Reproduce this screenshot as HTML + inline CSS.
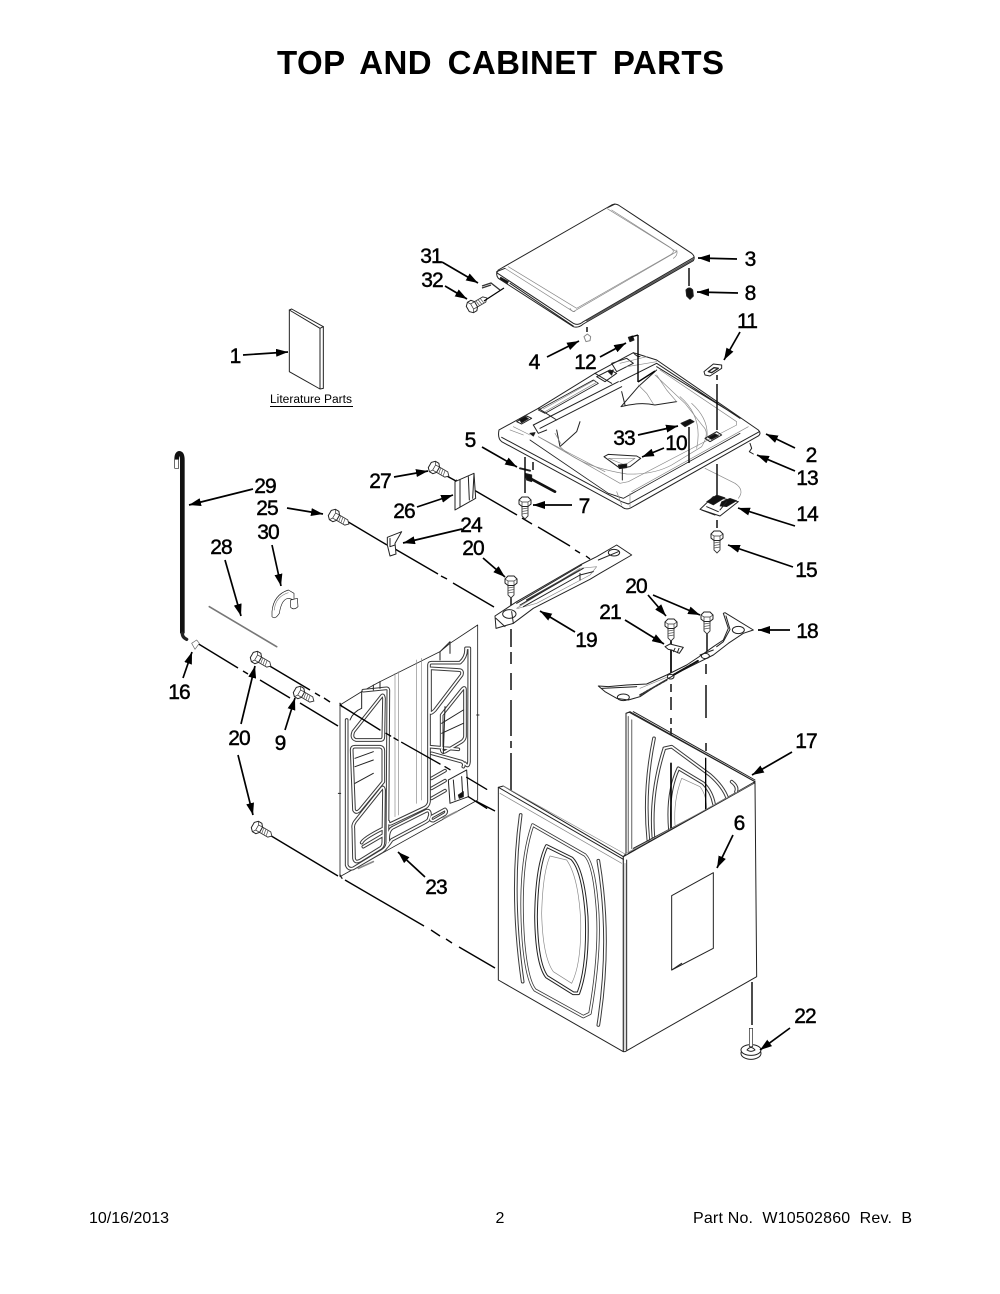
<!DOCTYPE html>
<html><head><meta charset="utf-8"><style>
html,body{margin:0;padding:0;background:#fff}
svg{display:block}
.n{font:21px "Liberation Sans",sans-serif;text-anchor:middle;fill:#000;stroke:#000;stroke-width:.45;letter-spacing:-.9px}
.f{font:16px "Liberation Sans",sans-serif;fill:#000}
.a line{stroke:#000;stroke-width:1.7;marker-end:url(#h)}
.d line{stroke:#000;stroke-width:1.4}
.t *{fill:none;stroke:#222;stroke-width:3;stroke-linejoin:round;stroke-linecap:round}
.g{stroke:#888!important;stroke-width:2!important}
.w{fill:#fff!important}
.e1{stroke:#3a3a3a!important;stroke-width:11!important}
.e2{stroke:#fff!important;stroke-width:5!important}
.k{fill:#111!important}
</style></head><body>
<svg xmlns="http://www.w3.org/2000/svg" width="1000" height="1294" viewBox="0 0 1000 1294">
<defs>
<marker id="h" markerUnits="userSpaceOnUse" markerWidth="13" markerHeight="8" refX="12" refY="4" orient="auto"><path d="M0,0L12,4L0,8Z" fill="#000"/></marker>
<g id="sv"><path d="M-3,3L-3,13L0,16L3,13L3,3Z" fill="#fff" stroke="#333" stroke-width=".9"/><path d="M-3,6L3,5M-3,8.500L3,7.500M-3,11L3,10" stroke="#555" stroke-width=".7"/><path d="M-6,-3L-3,-6L3,-6L6,-3L6,1L3,3.500L-3,3.500L-6,1Z" fill="#fff" stroke="#222" stroke-width="1"/><path d="M-6,-3L-3,-1L3,-1L6,-3M-3,-1L-3,3.500M3,-1L3,3.500" fill="none" stroke="#333" stroke-width=".7"/></g>
<path id="pan" d="M50,735L50,300M100,212L170,205Q176,205 175,215L172,670Q170,685 155,695L70,745Q55,750 50,735M155,228L70,335Q62,355 78,360L152,360Q160,360 160,350L162,235Q160,222 155,228ZM75,380L150,380Q160,382 160,392L160,485L90,570Q78,582 72,570L65,390Q65,380 75,380ZM155,505L75,605Q68,615 70,625L72,715Q75,730 90,722L150,685Q160,680 160,665L162,510Q160,498 155,505ZM95,668Q100,655 160,625M100,680L160,645M297,135Q297,128 305,128L390,128Q410,110 408,85L418,85L417,425Q415,445 405,430M300,145L385,150Q400,150 395,165L315,270Q300,285 300,275ZM335,285L395,210Q405,198 405,210L405,350Q403,360 395,365L345,395Q335,400 335,385ZM297,135L297,545Q295,560 280,565L185,610Q175,615 175,605M300,380L385,388M305,400L395,425Q405,430 400,440M305,475L345,452M305,505L345,482M305,535L345,512M305,590L345,568Q352,575 345,582L310,602Q298,602 305,590M175,665Q172,630 190,622L290,572Q300,570 300,585L295,600Q290,605 270,615L185,660Q172,680 160,690L70,745"/>
</defs>

<text x="500.500" y="74" text-anchor="middle" textLength="447" lengthAdjust="spacing" style="font:bold 33px 'Liberation Sans',sans-serif;word-spacing:6px">TOP AND CABINET PARTS</text>

<!-- lid -->
<g class="t" transform="translate(480 200) scale(.33333)">
<path class="w" d="M395,15Q405,10 415,15L635,160Q647,170 640,182L310,372Q295,385 280,380L55,235Q45,222 55,210Z"/>
<path d="M50,218L280,370Q295,378 310,365L642,172"/>
<path class="g" d="M75,205L280,335L590,155L380,25"/>
<path class="g" d="M85,200L290,325L570,165Q590,155 570,142L395,30M270,325Q275,335 285,335M580,175Q595,165 590,150"/>
<path d="M50,215L75,205M385,22L405,12M90,250L280,378"/>
<path class="k" d="M62,232L85,245L82,250L60,238Z"/>
<path d="M320,362L640,178" style="stroke:#555;stroke-width:4"/>
</g>
<!-- base -->
<g class="t" transform="translate(480 200) scale(.33333)">
<path class="w" d="M57,690L175,625L345,520L460,458L530,480L835,690Q845,700 835,708L450,925Q435,930 425,920L65,725Q52,715 57,690Z"/>
<path d="M65,712L425,905L445,912L838,695"/>
<path d="M150,720L385,880L430,895L780,700" style="stroke-width:2.500"/>
<path class="g" d="M175,710L250,750L375,815M455,875L805,680M410,875L425,915M450,880L450,925"/>
<!-- back-left deck -->
<path d="M175,630L195,640L355,550L340,540Z" style="stroke-width:2.500"/>
<path class="g" d="M190,627L345,540M195,635L350,547"/>
<path d="M160,675L415,545M180,685L425,560"/>
<path d="M160,675L175,700L200,690" />
<path d="M345,520L395,550M175,625L230,660"/>
<!-- inner wall -->
<path d="M420,545L530,490L780,655M530,500L775,650"/>
<path class="g" d="M540,510L770,665L770,675L445,845L420,850L175,710"/>
<!-- bowl -->
<path d="M230,690L240,740L290,695L300,665"/>
<path class="g" d="M240,740Q300,800 440,822Q520,825 575,795L665,740Q690,700 670,680L615,610L525,525"/>
<path class="g" d="M600,590Q670,650 650,745M635,610Q690,660 680,720M225,700L245,735"/>
<path d="M423,620L475,560L530,510M423,620Q480,605 525,615L590,605M425,575L435,615"/>
<path class="g" d="M475,555L500,580L520,612M530,525L560,570L590,605"/>
<!-- rear tabs -->
<path d="M350,530L390,510L410,520L375,545ZM395,490L440,475L460,490L410,515Z"/>
<path class="k" d="M385,515L400,510L395,525Z"/>
<path class="g" d="M420,490L500,470M440,500L530,485"/>
<path d="M460,458Q470,470 480,470"/>
<!-- left corner details -->
<path d="M110,665L140,648L155,655L125,672Z"/>
<path class="k" d="M118,658L135,650L145,656L125,668Z"/>
<path class="g" d="M90,690L130,705M100,680L150,705"/>
<path class="k" d="M150,700L165,698L160,708Z"/>
<!-- right pocket -->
<path d="M675,715L710,695L725,705L690,725Z"/>
<path class="k" d="M685,712L705,702L715,707L695,718Z"/>
<path d="M810,730L815,745L808,755L820,762" />
<path class="g" d="M675,805L765,850Q795,870 775,895"/>
<!-- 10 -->
<path class="w" d="M372,770L385,763L470,768L482,775L450,800L420,805Z"/>
<path class="g" d="M385,775L465,775L435,795Z"/>
<path class="k" d="M415,795L440,792L440,803L418,806Z"/>
<line x1="427" y1="805" x2="427" y2="840"/>
<!-- 11 -->
<path class="w" d="M672,515L700,492L725,495L725,505L690,528L675,525Z"/>
<path d="M685,515L702,503L715,505L695,518Z" style="stroke-width:4"/>
<!-- 33 -->
<path class="k" d="M603,670L630,658L642,665L615,680Z"/>
<!-- 14 -->
<path class="w" d="M660,928L700,890L775,905L720,948Z"/>
<path class="k" d="M680,905L710,885L735,893L700,915Z" style="stroke-width:2"/>
<path class="k" d="M725,905L750,895L770,902L740,920L720,918Z" style="stroke-width:2"/>
<path d="M665,930L705,945M680,920L715,935M740,905L720,930"/>
<!-- 5 -->
<path d="M120,805L150,812"  style="stroke-width:6"/>
<path class="k" d="M135,820L155,825L155,845L140,840Z"/>
<path d="M150,835L225,875" style="stroke:#111;stroke-width:8"/>
<!-- 12, 8, 4 -->
<path class="k" d="M445,412L458,408L462,420L450,425Z"/>
<path class="k" d="M618,270Q628,258 638,270L640,288L630,298L620,288Z"/>
<path class="w" d="M312,410L322,402L332,410L330,422L318,425Z" style="stroke:#888"/>
</g>
<g class="d">
<line x1="689" y1="268" x2="689" y2="286"/><line x1="587" y1="327" x2="587" y2="332"/>
<line x1="638" y1="335" x2="638" y2="382"/><line x1="638" y1="382" x2="655" y2="371"/><line x1="631" y1="337" x2="638" y2="335"/>
<line x1="717" y1="375" x2="717" y2="380"/><line x1="717" y1="384" x2="717" y2="430"/>
<line x1="689" y1="427" x2="689" y2="463"/><line x1="717" y1="464" x2="717" y2="495"/><line x1="717" y1="520" x2="717" y2="528"/>
<line x1="525" y1="457" x2="525" y2="493"/><line x1="533" y1="462" x2="533" y2="470"/>
<line x1="445" y1="475" x2="456" y2="481"/>
<line x1="474" y1="490" x2="517" y2="515"/><line x1="522" y1="518" x2="532" y2="524"/><line x1="538" y1="527" x2="570" y2="546"/><line x1="575" y1="550" x2="580" y2="553"/><line x1="586" y1="556" x2="590" y2="559"/>
<line x1="345" y1="520" x2="387" y2="545"/>
<line x1="395" y1="549" x2="438" y2="574"/><line x1="441" y1="576" x2="447" y2="579"/><line x1="453" y1="583" x2="494" y2="607"/>
<line x1="511" y1="596" x2="511" y2="622"/><line x1="511" y1="629" x2="511" y2="647"/><line x1="511" y1="652" x2="511" y2="664"/><line x1="511" y1="673" x2="511" y2="690"/><line x1="511" y1="700" x2="511" y2="736"/><line x1="511" y1="741" x2="511" y2="748"/><line x1="511" y1="753" x2="511" y2="792"/>
<line x1="671" y1="640" x2="671" y2="676" style="stroke-width:1.700"/><line x1="671" y1="684" x2="671" y2="692"/><line x1="671" y1="697" x2="671" y2="710"/><line x1="671" y1="718" x2="671" y2="724"/><line x1="671" y1="728" x2="671" y2="752"/>
<line x1="707" y1="630" x2="707" y2="657"/><line x1="706" y1="664" x2="706" y2="674"/><line x1="706" y1="685" x2="706" y2="718"/><line x1="706" y1="743" x2="706" y2="751"/>
<line x1="752" y1="982" x2="752" y2="1025"/>
<line x1="197" y1="643" x2="238" y2="668"/><line x1="243" y1="671" x2="248" y2="674"/><line x1="260" y1="680" x2="290" y2="698"/><line x1="300" y1="703" x2="338" y2="726"/>
<line x1="268" y1="665" x2="310" y2="690"/><line x1="315" y1="693" x2="320" y2="696"/><line x1="324" y1="698" x2="330" y2="702"/>
<line x1="263" y1="831" x2="338" y2="876"/><line x1="345" y1="880" x2="424" y2="926"/><line x1="431" y1="930" x2="440" y2="936"/><line x1="446" y1="939" x2="452" y2="943"/><line x1="459" y1="947" x2="495" y2="968"/>
<line x1="468" y1="797" x2="495" y2="811"/>
</g>
<!-- brace 19 -->
<g class="t" transform="translate(480 540) scale(.33333)">
<path class="w" d="M45,228L110,185L300,75L350,50L410,15L455,45L360,100L330,118L160,205L100,250L48,265Z"/>
<path d="M48,235L75,260M100,250L95,215"/>
<ellipse cx="88" cy="222" rx="20" ry="13"/><ellipse cx="402" cy="38" rx="17" ry="10"/>
<path class="g" d="M110,205L300,85L350,80L330,105L170,190L115,205Z"/>
<path d="M110,190L305,75M120,195L310,85M130,200L300,105L340,95M300,100L300,120M355,60L415,35"/>
<path d="M140,180L300,90" style="stroke:#333;stroke-width:4"/>
<!-- brace 18 -->
<path class="w" d="M355,438L385,440L440,435L500,432L560,405L620,375L665,345L700,320L730,300L745,265L730,220L735,218L820,270L790,280L745,310L700,345L650,370L600,395L540,430L480,470L445,480L410,475L375,455Z"/>
<ellipse cx="775" cy="270" rx="18" ry="11"/><ellipse cx="430" cy="472" rx="18" ry="10"/>
<path d="M738,228L750,268L730,305L710,320M365,445L470,440M700,330L660,345"/>
<path d="M580,405L655,362" style="stroke:#111;stroke-width:6;stroke-dasharray:8 3"/>
<ellipse cx="572" cy="410" rx="10" ry="7"/><ellipse cx="676" cy="348" rx="12" ry="8"/>
<path d="M480,465L560,420" style="stroke:#333;stroke-width:5;stroke-dasharray:7 4"/>
<path class="g" d="M480,445L560,412"/>
<!-- 21 -->
<path class="w" d="M555,320L570,312L610,322L598,340L575,330L565,328Z"/>
<path d="M585,325L580,335M597,325L592,338"/>
</g>
<!-- screws -->
<use href="#sv" transform="translate(511 582)"/><use href="#sv" transform="translate(671 625)"/><use href="#sv" transform="translate(707 618)"/>
<use href="#sv" transform="translate(525 503)"/><use href="#sv" transform="translate(717 537)"/>
<use href="#sv" transform="translate(435 468) rotate(-60)"/><use href="#sv" transform="translate(335 516) rotate(-60)"/><use href="#sv" transform="translate(257 658) rotate(-60)"/><use href="#sv" transform="translate(300 693) rotate(-60)"/><use href="#sv" transform="translate(258 828) rotate(-60)"/><use href="#sv" transform="translate(473 306) rotate(-120)"/>
<!-- 31 -->
<path d="M482,286L491,283L500,290M482,288L491,285" fill="none" stroke="#333" stroke-width="1.300"/><line x1="484" y1="301" x2="504" y2="288" stroke="#000" stroke-width="1.200"/>
<!-- 26, 24 -->
<g class="t" transform="translate(360 430) scale(.33333)">
<path class="w" d="M285,155L342,130L347,205L285,240Z"/>
<path d="M300,150L300,230M325,140L328,210M342,130L338,205M285,155L290,150"/>
<path class="w" d="M82,322L125,305L105,340L108,372L90,378L82,345Z"/>
<path d="M90,325L90,350L105,345"/>
</g>
<!-- hose, trap, rod -->
<g class="t" transform="translate(150 430) scale(.33333)">
<path d="M97,610L97,90Q97,70 87,70Q80,72 80,88" style="stroke:#111;stroke-width:14;stroke-linecap:butt"/>
<path class="w" d="M74,88L86,88L86,115L74,115Z" style="stroke-width:2"/>
<path d="M97,610Q97,622 110,628" style="stroke:#222;stroke-width:10"/>
<path class="w" d="M125,640L140,630L148,640L135,658Z" style="stroke-width:2;stroke:#666"/>
<path d="M178,530L380,650" style="stroke:#777;stroke-width:5"/>
<path class="w" d="M366,545Q370,495 415,480L432,490L432,510L417,505Q395,505 388,550Q375,570 366,560Z" style="stroke-width:2"/>
<path class="w" d="M422,510L442,505L444,530Q432,542 422,532Z" style="stroke-width:2"/>
<path class="g" d="M373,540Q376,500 415,488"/>
</g>
<!-- book -->
<g class="t" transform="translate(220 240) scale(.33333)">
<path class="w" d="M208,210L215,207L310,260L310,445L300,447L208,395Z"/>
<path d="M208,210L300,265L300,445M300,265L310,260"/>
</g>
<text x="270" y="403" textLength="82" lengthAdjust="spacingAndGlyphs" style="font:11.500px 'Liberation Sans',sans-serif">Literature Parts</text>
<line x1="270" y1="406.500" x2="353" y2="406.500" stroke="#000" stroke-width="1"/>
<!-- panel 23 -->
<g class="t" transform="translate(330 620) scale(.33333)">
<path class="w" d="M30,255L95,215L150,185L330,95L360,70L443,15L443,540L30,770Z" style="stroke-width:2.500"/>
<path class="g" d="M195,160L195,590M205,155L205,585M260,120L260,550M275,115L275,540"/>
<use href="#pan" class="e1" style="fill:none;stroke:#3a3a3a;stroke-width:11"/>
<use href="#pan" class="e2" style="fill:none;stroke:#fff;stroke-width:5"/>
<path d="M95,215L95,265M130,195L130,210M150,185L150,205M330,120L330,95L360,65L360,100M60,300Q70,275 95,265M75,440L130,420M75,490L130,460M335,310L400,270M335,340L400,310M75,415L130,395M345,260L340,400"/>
<path class="w" d="M355,480L410,450L415,530L360,550Z"/>
<path d="M370,480L375,540M395,470L398,525"/>
<path class="k" d="M385,525L400,515L400,530L388,535Z"/>
<path d="M30,250L36,260M30,765L36,775" style="stroke-width:4"/>
<path d="M25,520L32,520M440,285L447,285" style="stroke-width:3"/>
<path d="M85,745L130,725M340,595L380,575" style="stroke:#888;stroke-width:5"/>
<path d="M30,255L150,330" style="stroke:#000;stroke-width:4"/><path d="M168,340L182,348M192,354L204,361M215,367L330,432M345,440L360,449M410,472L470,508" style="stroke:#000;stroke-width:4"/><path d="M415,530L470,565" style="stroke:#000;stroke-width:4"/>
</g>
<!-- cabinet -->
<g class="t" transform="translate(490 700) scale(.33333)">
<path class="w" d="M408,40L420,35L795,245L400,470L408,460Z"/>
<path class="g" d="M425,60L425,445M415,50L415,455" style="stroke-width:4!important"/>
<g id="bkg">
<path class="e1" d="M492,115Q460,270 475,420M523,145Q480,280 490,410M523,145L545,140L660,225Q700,260 712,295M565,205Q530,280 540,392M565,205L640,250Q665,275 672,312M725,245Q745,260 738,275"/>
<path class="e2" d="M492,115Q460,270 475,420M523,145Q480,280 490,410M523,145L545,140L660,225Q700,260 712,295M565,205Q530,280 540,392M565,205L640,250Q665,275 672,312M725,245Q745,260 738,275"/>
</g>
<path class="g" d="M575,235Q550,300 555,375M575,235L630,260Q650,285 650,330"/>
<path d="M543,190L543,392" style="stroke:#000;stroke-width:5"/>
<path d="M647,175L647,332" style="stroke:#000;stroke-width:4"/>
<path d="M408,40L418,37L795,245M430,35L795,240M415,460L795,250M430,445L790,255"/>
<path class="w" d="M25,262L40,258L400,470L400,1055L25,840Z"/>
<path class="w" d="M400,470L795,248L800,830L405,1055L400,1055Z"/>
<path d="M410,480L410,1050M25,262L400,478"/>
<path class="g" d="M40,258L405,462L790,250M30,280L395,490"/>
<path class="e1" d="M92,345Q60,580 98,845"/><path class="e2" d="M92,345Q60,580 98,845"/>
<path class="e1" d="M128,375L285,465Q310,490 320,600Q335,740 300,940L280,950L135,870Q110,840 100,720Q85,500 128,375Z" style="stroke-width:10!important"/><path class="e2" d="M128,375L285,465Q310,490 320,600Q335,740 300,940L280,950L135,870Q110,840 100,720Q85,500 128,375Z"/>
<path class="e1" d="M170,438L245,475Q280,510 290,650Q295,800 265,880L250,880L170,830Q140,790 138,650Q140,500 170,438Z" style="stroke:#222!important"/><path class="e2" d="M170,438L245,475Q280,510 290,650Q295,800 265,880L250,880L170,830Q140,790 138,650Q140,500 170,438Z"/>
<path class="g" d="M180,468L230,480Q265,530 272,660Q275,790 245,850L190,815Q158,770 155,640Q158,520 180,468Z"/>
<path class="e1" d="M325,482Q365,720 325,975"/><path class="e2" d="M325,482Q365,720 325,975"/>
<path class="w" d="M545,587L670,518L670,745L545,810Z"/><path d="M545,810L575,790"/>
<path class="g" d="M405,1050L405,490"/>
</g>
<!-- foot -->
<g class="t" transform="translate(490 700) scale(.33333)">
<ellipse class="w" cx="783" cy="1060" rx="30" ry="18"/>
<ellipse class="w" cx="783" cy="1050" rx="30" ry="16"/>
<path class="w" d="M771,1050Q783,1035 795,1050Q783,1058 771,1050Z"/>
<rect class="w" x="778" y="985" width="10" height="55" style="stroke-width:2"/>
</g>
<!-- arrows -->
<g class="a">
<line x1="442" y1="262" x2="478" y2="283"/><line x1="445" y1="286" x2="467" y2="299"/>
<line x1="737" y1="259" x2="698" y2="258"/><line x1="738" y1="293" x2="697" y2="292"/>
<line x1="740" y1="332" x2="724" y2="360"/><line x1="547" y1="357" x2="579" y2="341"/>
<line x1="600" y1="357" x2="626" y2="343"/><line x1="638" y1="435" x2="678" y2="426"/>
<line x1="664" y1="448" x2="642" y2="457"/><line x1="572" y1="505" x2="533" y2="505"/>
<line x1="482" y1="447" x2="517" y2="467"/><line x1="394" y1="477" x2="428" y2="471"/>
<line x1="417" y1="507" x2="453" y2="495"/><line x1="462" y1="529" x2="403" y2="543"/>
<line x1="483" y1="558" x2="505" y2="577"/><line x1="795" y1="448" x2="766" y2="434"/>
<line x1="795" y1="471" x2="757" y2="455"/><line x1="795" y1="526" x2="738" y2="508"/>
<line x1="793" y1="567" x2="728" y2="545"/><line x1="790" y1="630" x2="758" y2="630"/>
<line x1="575" y1="632" x2="540" y2="611"/><line x1="648" y1="595" x2="666" y2="616"/>
<line x1="653" y1="595" x2="700" y2="615"/><line x1="625" y1="620" x2="664" y2="644"/>
<line x1="253" y1="489" x2="189" y2="505"/><line x1="287" y1="508" x2="323" y2="514"/>
<line x1="272" y1="545" x2="281" y2="586"/><line x1="225" y1="560" x2="241" y2="616"/>
<line x1="183" y1="678" x2="192" y2="652"/><line x1="241" y1="724" x2="255" y2="666"/>
<line x1="285" y1="730" x2="295" y2="698"/><line x1="238" y1="755" x2="253" y2="815"/>
<line x1="243" y1="355" x2="288" y2="352"/><line x1="792" y1="752" x2="752" y2="775"/>
<line x1="733" y1="835" x2="717" y2="868"/><line x1="790" y1="1028" x2="760" y2="1050"/>
<line x1="425" y1="877" x2="398" y2="852"/>
</g>
<!-- labels -->
<g class="n">
<text x="431" y="263">31</text><text x="432" y="287">32</text><text x="750" y="266">3</text><text x="750" y="300">8</text><text x="747" y="328">11</text>
<text x="534" y="369">4</text><text x="585" y="369">12</text><text x="235" y="363">1</text><text x="811" y="462">2</text><text x="807" y="485">13</text>
<text x="624" y="445">33</text><text x="676" y="450">10</text><text x="470" y="447">5</text><text x="380" y="488">27</text><text x="584" y="513">7</text>
<text x="807" y="521">14</text><text x="265" y="493">29</text><text x="267" y="515">25</text><text x="404" y="518">26</text><text x="471" y="532">24</text>
<text x="268" y="539">30</text><text x="221" y="554">28</text><text x="473" y="555">20</text><text x="806" y="577">15</text><text x="636" y="593">20</text>
<text x="610" y="619">21</text><text x="807" y="638">18</text><text x="586" y="647">19</text><text x="179" y="699">16</text><text x="239" y="745">20</text>
<text x="280" y="750">9</text><text x="806" y="748">17</text><text x="739" y="830">6</text><text x="436" y="894">23</text><text x="805" y="1023">22</text>
</g>
<text class="f" x="89" y="1223">10/16/2013</text>
<text class="f" x="500" y="1223" text-anchor="middle">2</text>
<text class="f" x="693" y="1223" textLength="219" lengthAdjust="spacing" xml:space="preserve">Part No.  W10502860  Rev.  B</text>
</svg>
</body></html>
